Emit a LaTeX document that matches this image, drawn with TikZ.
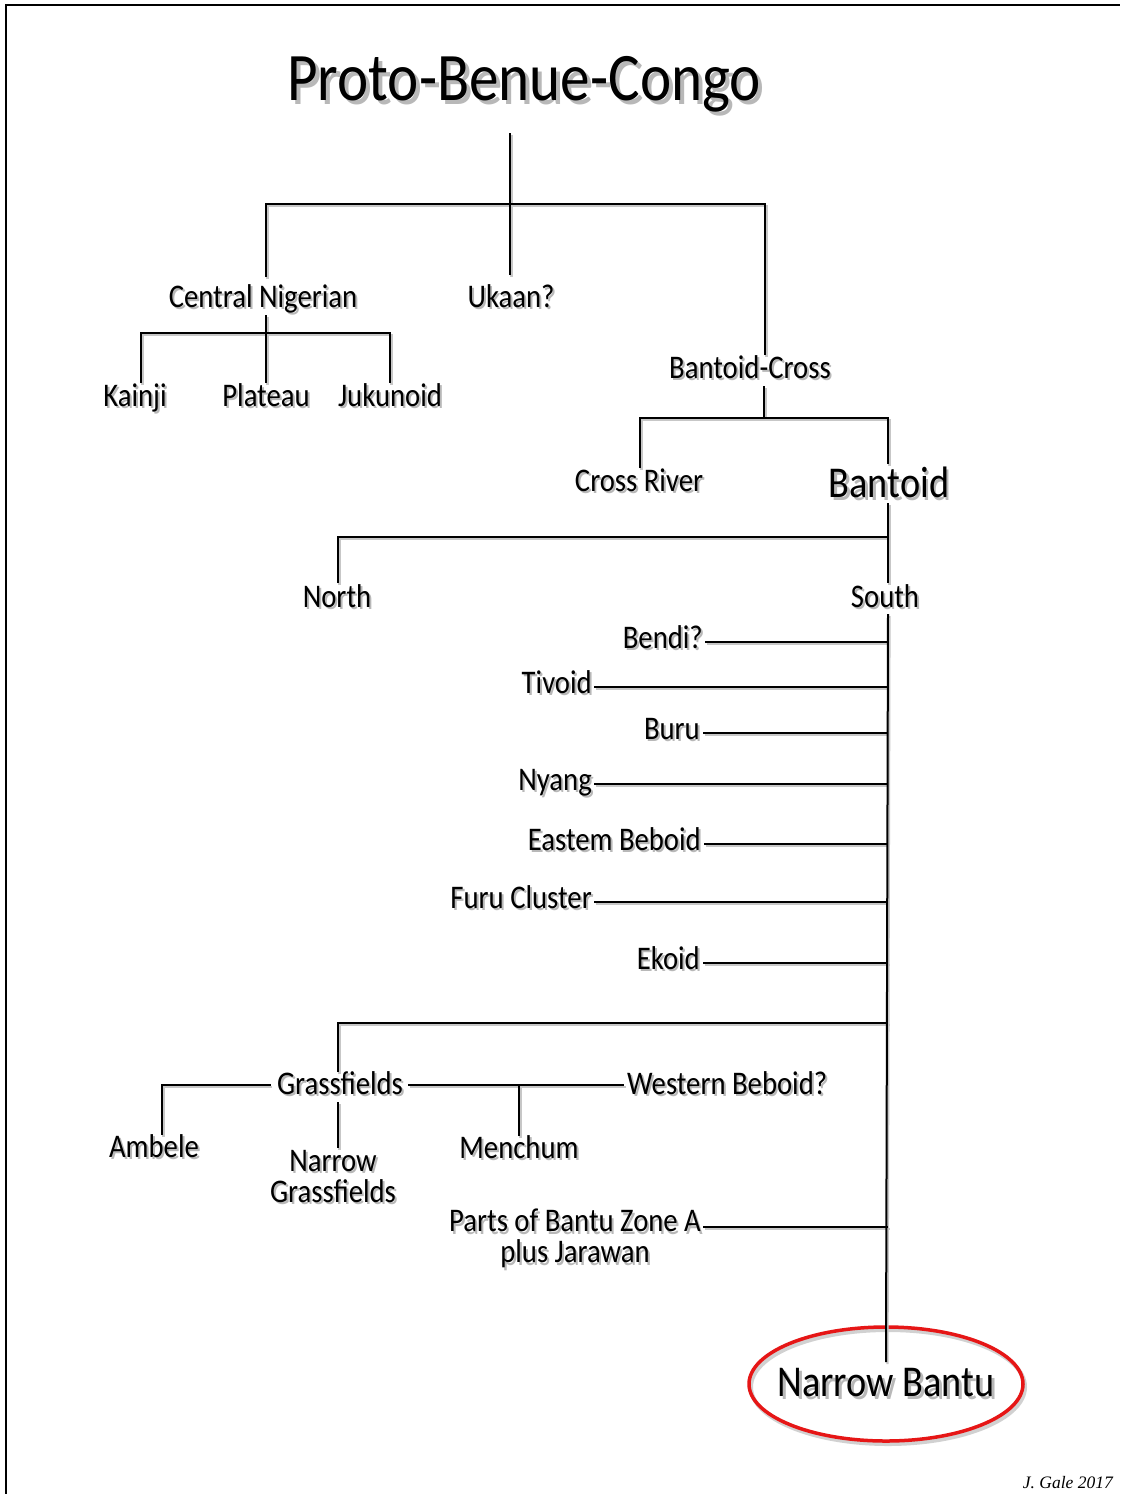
\documentclass[tikz,border=0pt]{standalone}
\usepackage{fontspec}
\setmainfont{Carlito}[FakeStretch=0.87]
\newfontfamily\sigfont{Liberation Serif}
\usetikzlibrary{calc,shapes.geometric}
\definecolor{nbred}{RGB}{230,22,22}
\newcommand\shtext[1]{\leavevmode\rlap{\kern0.06em\raisebox{-0.07em}{\color{black!28}#1}}#1}
\tikzset{
  lab/.style={inner sep=0pt, anchor=base, font=\fontsize{33}{31}\selectfont},
  big/.style={lab, font=\fontsize{44}{48}\selectfont},
  conn/.style={line width=2pt},
  connshadow/.style={draw=black!22, line width=2.2pt, transform canvas={shift={(1.5pt,-2.2pt)}}}
}
\newcommand\allconnectors[1]{%
  \draw[#1] (t0) -- (uT);
  \draw[#1] (cnT) |- (tj) -| (bcT);
  \draw[#1] (cnB) -- (plT);
  \draw[#1] (kaiT) |- (cj) -| (jukT);
  \draw[#1] (bcB) -- (bj);
  \draw[#1] (crT) |- (bj) -| (btT);
  \draw[#1] (btB) -- (soT);
  \draw[#1] (noT) |- (nj);
  \draw[#1] (sp) -- (spE);
  \draw[#1] (bendiE) -- (bendiE -| sp);
  \draw[#1] (tivE) -- (tivE -| sp);
  \draw[#1] (buruE) -- (buruE -| sp);
  \draw[#1] (nyangE) -- (nyangE -| sp);
  \draw[#1] (ebE) -- (ebE -| sp);
  \draw[#1] (furuE) -- (furuE -| sp);
  \draw[#1] (ekE) -- (ekE -| sp);
  \draw[#1] (gfT) |- (gj);
  \draw[#1] (gfB) -- (ngfT);
  \draw[#1] (gfW) -| (ambT);
  \draw[#1] (gfE) -- (wbW);
  \draw[#1] (menT) -- (menT |- gfE);
  \draw[#1] (pzE) -- (pzE -| sp);
}
\begin{document}
\begin{tikzpicture}[x=1pt,y=-1pt]
\useasboundingbox (0,0) rectangle (1120,1494);
\fill[white] (0,0) rectangle (1120,1494);
\draw[line width=1.5pt] (6,1494) -- (6,5) -- (1120,5);

% nodes
\node[lab, font=\fontsize{68}{72}\selectfont] (pbc) at (524,100) {\shtext{Proto-Benue-Congo}};
\node[lab] (cn) at (263,307) {\shtext{Central Nigerian}};
\node[lab] (uk) at (511,307) {\shtext{Ukaan?}};
\node[lab] (kai) at (135,406) {\shtext{Kainji}};
\node[lab] (pla) at (266,406) {\shtext{Plateau}};
\node[lab] (juk) at (390,406) {\shtext{Jukunoid}};
\node[lab] (bc) at (750,378) {\shtext{Bantoid-Cross}};
\node[lab] (cr) at (639,491) {\shtext{Cross River}};
\node[big] (bt) at (889,497) {\shtext{Bantoid}};
\node[lab] (no) at (337,607) {\shtext{North}};
\node[lab] (so) at (885,607) {\shtext{South}};
\node[lab, anchor=base east] (bendi) at (703,648) {\shtext{Bendi?}};
\node[lab, anchor=base east] (tiv) at (592,693) {\shtext{Tivoid}};
\node[lab, anchor=base east] (buru) at (700,739) {\shtext{Buru}};
\node[lab, anchor=base east] (nyang) at (592,790) {\shtext{Nyang}};
\node[lab, anchor=base east] (eb) at (701,850) {\shtext{Eastem Beboid}};
\node[lab, anchor=base east] (furu) at (592,908) {\shtext{Furu Cluster}};
\node[lab, anchor=base east] (ek) at (700,969) {\shtext{Ekoid}};
\node[lab] (gf) at (340,1094) {\shtext{Grassfields}};
\node[lab, anchor=base west] (wb) at (627,1094) {\shtext{Western Beboid?}};
\node[lab] (amb) at (154,1157) {\shtext{Ambele}};
\node[lab] (men) at (519,1158) {\shtext{Menchum}};
\node[lab, anchor=north, align=center] (ngf) at (333,1150) {\shtext{Narrow}\\\shtext{Grassfields}};
\node[lab, anchor=north, align=center] (pz) at (575,1209) {\shtext{Parts of Bantu Zone A}\\\shtext{plus Jarawan}};
\node[ellipse, draw=nbred, line width=3.5pt, minimum width=274pt, minimum height=114pt,
      inner xsep=-20pt, inner ysep=0pt,
      font=\fontsize{44}{48}\selectfont,
      preaction={draw=black!18, line width=4pt, transform canvas={shift={(2pt,-3pt)}}}] (nb) at (886,1384) {\shtext{Narrow Bantu}};
\node[inner sep=0pt, anchor=base east, font=\sigfont\itshape\fontsize{17.5}{20}\selectfont] (sig) at (1113,1488) {J. Gale 2017};

% coordinates
\coordinate (t0) at ($(pbc.base)+(-14,33)$);
\coordinate (uT) at ($(uk.base)+(-1,-32)$);
\coordinate (cnT) at ($(cn.base)+(3,-30)$);
\coordinate (bcT) at ($(bc.base)+(15,-23)$);
\coordinate (tj) at (510,204);
\coordinate (cnB) at ($(cn.base)+(3,8)$);
\coordinate (plT) at ($(pla.base)+(0,-23)$);
\coordinate (kaiT) at ($(kai.base)+(6,-23)$);
\coordinate (jukT) at ($(juk.base)+(0,-23)$);
\coordinate (cj) at (266,333);
\coordinate (bcB) at ($(bc.base)+(14,8)$);
\coordinate (bj) at (764,418);
\coordinate (crT) at ($(cr.base)+(1,-23)$);
\coordinate (btT) at ($(bt.base)+(-1,-33)$);
\coordinate (btB) at ($(bt.base)+(-1,6)$);
\coordinate (soT) at ($(so.base)+(3,-24)$);
\coordinate (noT) at ($(no.base)+(1,-24)$);
\coordinate (nj) at (888,537);
\coordinate (sp) at ($(so.base)+(3,7)$);
\coordinate (spE) at ($(nb.center)+(0,-22)$);
\coordinate (bendiE) at ($(bendi.base east)+(2,-6)$);
\coordinate (tivE) at ($(tiv.base east)+(2,-6)$);
\coordinate (buruE) at ($(buru.base east)+(3,-6)$);
\coordinate (nyangE) at ($(nyang.base east)+(2,-6)$);
\coordinate (ebE) at ($(eb.base east)+(3,-6)$);
\coordinate (furuE) at ($(furu.base east)+(2,-6)$);
\coordinate (ekE) at ($(ek.base east)+(3,-6)$);
\coordinate (gj) at (888,1023);
\coordinate (gfT) at ($(gf.base)+(-2,-22)$);
\coordinate (gfB) at ($(gf.base)+(-2,8)$);
\coordinate (gfW) at ($(gf.base west)+(-6,-9)$);
\coordinate (gfE) at ($(gf.base east)+(5,-9)$);
\coordinate (wbW) at ($(wb.base west)+(-3,-9)$);
\coordinate (ambT) at ($(amb.base)+(8,-22)$);
\coordinate (menT) at ($(men.base)+(0,-22)$);
\coordinate (ngfT) at ($(ngf.north)+(5,-2)$);
\coordinate (pzE) at ($(pz.north east)+(2,18)$);

% connectors: shadows first, then lines
\allconnectors{connshadow}
\allconnectors{conn}
\end{tikzpicture}
\end{document}
